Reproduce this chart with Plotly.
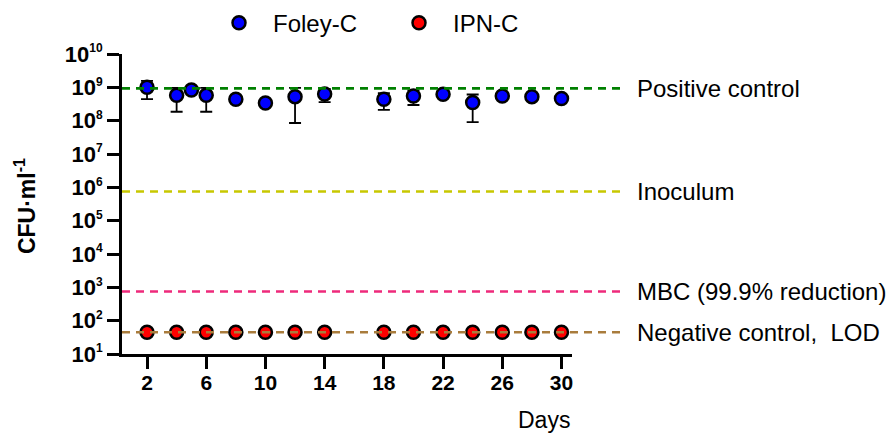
import math
import plotly.graph_objects as go

# ---- data ----
days_foley = [2, 4, 5, 6, 8, 10, 12, 14, 18, 20, 22, 24, 26, 28, 30]
cfu_foley = [1.0e9, 5.75e8, 8.3e8, 5.75e8, 4.4e8, 3.4e8, 5.25e8, 6.3e8,
             4.4e8, 5.5e8, 6.2e8, 3.5e8, 5.5e8, 5.25e8, 4.6e8]
sd_foley = [5.6e8, 3.9e8, 0, 3.9e8, 0, 0, 4.4e8, 2.7e8,
            2.3e8, 2.55e8, 0, 2.6e8, 0, 0, 0]

days_ipn = [2, 4, 6, 8, 10, 12, 14, 18, 20, 22, 24, 26, 28, 30]
cfu_ipn = [45, 45, 45, 45, 45, 45, 45, 45, 45, 45, 45, 45, 45, 45]

ref_labels = ["Positive control", "Inoculum", "MBC (99.9% reduction)", "Negative control,  LOD"]
ref_values = [9.3e8, 7.5e5, 750, 45]
ref_colors = ["#008000", "#C8C800", "#EE2A7B", "#A97C3C"]

x_ticks = [2, 6, 10, 14, 18, 22, 26, 30]
y_exponents = [1, 2, 3, 4, 5, 6, 7, 8, 9, 10]

FONT = "Liberation Sans, Arial, sans-serif"

fig = go.Figure()
fig.add_trace(go.Scatter(
    x=days_foley, y=cfu_foley, mode="markers", name="Foley-C",
    marker=dict(size=13, color="#0000FF", line=dict(color="black", width=2.5)),
    error_y=dict(type="data", array=sd_foley, color="black", thickness=1.8, width=6),
))
fig.add_trace(go.Scatter(
    x=days_ipn, y=cfu_ipn, mode="markers", name="IPN-C",
    marker=dict(size=13, color="#FF0000", line=dict(color="black", width=2.5)),
))

# reference lines on an overlay x-axis spanning past the data axis
for lab, val, col in zip(ref_labels, ref_values, ref_colors):
    fig.add_trace(go.Scatter(
        x=[0, 1], y=[val, val], mode="lines", xaxis="x2", yaxis="y",
        line=dict(color=col, width=2.6, dash="8px,6px"),
        showlegend=False, hoverinfo="skip",
    ))
    fig.add_annotation(xref="paper", yref="y", x=1.026, y=math.log10(val),
                       text=lab, showarrow=False, xanchor="left", yanchor="middle",
                       font=dict(size=24, color="black", family=FONT))

fig.add_annotation(xref="paper", yref="paper", x=0.9, y=-0.22, text="Days",
                   showarrow=False, xanchor="right", yanchor="middle",
                   font=dict(size=23, color="black", family=FONT))
fig.add_annotation(xref="paper", yref="paper", x=-0.194, y=0.493,
                   text="<b>CFU·ml<sup>-1</sup></b>", textangle=-90,
                   showarrow=False, xanchor="center", yanchor="middle",
                   font=dict(size=23, color="black", family=FONT))

fig.update_layout(
    width=893, height=434,
    margin=dict(l=122, r=271, t=54, b=80, autoexpand=False),
    plot_bgcolor="rgba(0,0,0,0)", paper_bgcolor="white",
    showlegend=True,
    xaxis=dict(
        domain=[0, 0.9], anchor="y",
        range=[0.31, 30.71], tickvals=x_ticks, ticktext=[str(t) for t in x_ticks],
        showline=True, linecolor="black", linewidth=3, ticks="outside", ticklen=12,
        tickwidth=2.5, tickcolor="black", showgrid=False, zeroline=False,
        ticklabelstandoff=-4,
        tickfont=dict(size=21, color="black", family=FONT, weight="bold"),
    ),
    xaxis2=dict(domain=[0, 1], anchor="y", range=[0, 1], visible=False,
                showgrid=False, zeroline=False),
    yaxis=dict(
        type="log", range=[1, 10], anchor="x", tickvals=[10 ** e for e in y_exponents],
        ticktext=["10<sup><span style='font-size:12px'>%d</span></sup>" % e for e in y_exponents],
        showline=True, linecolor="black", linewidth=3, ticks="outside", ticklen=12,
        tickwidth=2.5, tickcolor="black", showgrid=False, zeroline=False,
        tickfont=dict(size=22, color="black", family=FONT, weight="bold"),
    ),
    legend=dict(orientation="h", x=0.166, xanchor="left", y=1.103, yanchor="middle",
                itemwidth=58, entrywidth=107, entrywidthmode="pixels",
                font=dict(size=24, color="black", family=FONT),
                bgcolor="rgba(0,0,0,0)"),
    font=dict(family=FONT),
)
fig.write_html("out.html", config={"displayModeBar": False},
               post_script="document.body.style.margin='0';")
